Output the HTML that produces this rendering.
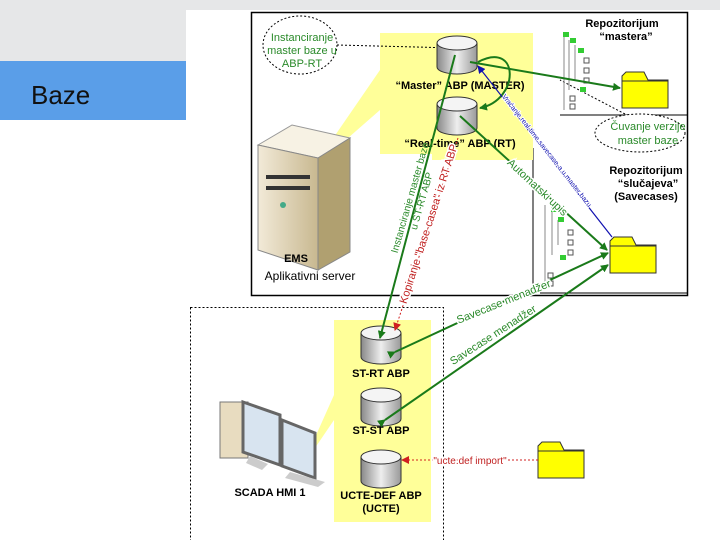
<!DOCTYPE html>
<html><head><meta charset="utf-8"><style>
html,body{margin:0;padding:0;width:720px;height:540px;overflow:hidden;background:#fff}
svg{display:block;font-family:"Liberation Sans",sans-serif}
</style></head><body>
<svg width="720" height="540" viewBox="0 0 720 540" xmlns="http://www.w3.org/2000/svg">
<defs>
<linearGradient id="cyl" x1="0" x2="1"><stop offset="0" stop-color="#888"/><stop offset="0.5" stop-color="#eee"/><stop offset="1" stop-color="#999"/></linearGradient>
<linearGradient id="srv" x1="0" x2="1"><stop offset="0" stop-color="#f2ead8"/><stop offset="1" stop-color="#c8b890"/></linearGradient>
<marker id="ag" markerWidth="8" markerHeight="8" refX="7" refY="4" orient="auto" markerUnits="userSpaceOnUse"><path d="M0,0 L8,4 L0,8 z" fill="#1a7a1a"/></marker>
<marker id="ab" markerWidth="8" markerHeight="8" refX="7" refY="4" orient="auto" markerUnits="userSpaceOnUse"><path d="M0,0 L8,4 L0,8 z" fill="#1010b0"/></marker>
<marker id="ar" markerWidth="8" markerHeight="8" refX="7" refY="4" orient="auto" markerUnits="userSpaceOnUse"><path d="M0,0 L8,4 L0,8 z" fill="#d02020"/></marker>
<g id="cy"><path d="M-20,-12 L-20,12 A20,7 0 0 0 20,12 L20,-12" fill="url(#cyl)" stroke="#333"/><ellipse cx="0" cy="-12" rx="20" ry="7" fill="#f4f4f4" stroke="#333"/></g>
<g id="fd"><path d="M0,4 L0,36 L46,36 L46,8 L26,8 L22,0 L4,0 Z" fill="#ffff00" stroke="#333"/><path d="M0,9 L46,9" stroke="#333"/></g>
</defs>
<rect x="0" y="0" width="720" height="10" fill="#e6e7e8"/>
<rect x="0" y="0" width="186" height="61" fill="#e6e7e8"/>
<rect x="0" y="61" width="186" height="59" fill="#5a9ee8"/>
<text x="31" y="104" font-size="26" fill="#111">Baze</text>
<rect x="251.5" y="12.5" width="436" height="283" fill="#fff" stroke="#000" stroke-width="1.5"/>
<line x1="533" y1="148" x2="533" y2="295" stroke="#000"/>
<line x1="560" y1="115" x2="688" y2="115" stroke="#000"/>
<line x1="540" y1="293" x2="688" y2="293" stroke="#000"/>
<polygon points="380,33 533,33 533,160 432,160 432,154 380,154" fill="#ffff99"/>
<polygon points="325,150 380,70 380,110 300,180" fill="#ffff99"/>
<rect x="334" y="320" width="97" height="202" fill="#ffff99"/>
<polygon points="300,470 334,420 334,395 305,460" fill="#ffff99"/>
<polygon points="258,145 292,125 350,138 318,158" fill="#f7f2e4" stroke="#999"/>
<polygon points="258,145 318,158 318,270 258,250" fill="url(#srv)" stroke="#888"/>
<polygon points="318,158 350,138 350,252 318,270" fill="#b0a070" stroke="#888"/>
<rect x="266" y="175" width="44" height="4" fill="#333"/><rect x="266" y="186" width="44" height="4" fill="#333"/>
<circle cx="283" cy="205" r="3" fill="#4a8"/>
<text x="296" y="262" font-size="11" font-weight="bold" text-anchor="middle">EMS</text>
<text x="310" y="280" font-size="12" text-anchor="middle">Aplikativni server</text>
<ellipse cx="300" cy="45" rx="37" ry="29" fill="#fff" stroke="#000" stroke-dasharray="2,2"/>
<text font-size="11" fill="#2a8a2a" text-anchor="middle"><tspan x="302" y="41">Instanciranje</tspan><tspan x="302" y="54">master baze u</tspan><tspan x="302" y="67">ABP-RT</tspan></text>
<line x1="337" y1="45" x2="455" y2="48" stroke="#000" stroke-dasharray="2,2"/>
<ellipse cx="640" cy="133" rx="45" ry="19" fill="#fff" stroke="#000" stroke-dasharray="2,2"/>
<text font-size="11" fill="#2a8a2a" text-anchor="middle"><tspan x="648" y="130">Čuvanje verzije</tspan><tspan x="648" y="144">master baze</tspan></text>
<line x1="625" y1="114" x2="560" y2="80" stroke="#000" stroke-dasharray="2,2"/>
<text font-size="11" font-weight="bold" text-anchor="middle"><tspan x="622" y="27">Repozitorijum</tspan><tspan x="626" y="40">“mastera”</tspan></text>
<text font-size="11" font-weight="bold" text-anchor="middle"><tspan x="646" y="174">Repozitorijum</tspan><tspan x="648" y="187">“slučajeva”</tspan><tspan x="646" y="200">(Savecases)</tspan></text>
<g stroke="#888" fill="none"><path d="M564,35 V110 M569,40 V90 M575,45 V80"/><path d="M545,205 V285 M552,210 V255 M558,220 V245"/></g>
<g fill="#3c3"><rect x="563" y="32" width="6" height="5"/><rect x="570" y="38" width="6" height="5"/><rect x="578" y="48" width="6" height="5"/><rect x="580" y="87" width="6" height="5"/><rect x="551" y="207" width="6" height="5"/><rect x="558" y="217" width="6" height="5"/><rect x="560" y="255" width="6" height="5"/></g>
<g fill="#fff" stroke="#555"><rect x="584" y="58" width="5" height="5"/><rect x="584" y="68" width="5" height="5"/><rect x="584" y="78" width="5" height="5"/><rect x="570" y="96" width="5" height="5"/><rect x="570" y="104" width="5" height="5"/><rect x="568" y="230" width="5" height="5"/><rect x="568" y="240" width="5" height="5"/><rect x="568" y="250" width="5" height="5"/><rect x="548" y="273" width="5" height="5"/><rect x="548" y="281" width="5" height="5"/></g>
<use href="#fd" x="622" y="72"/>
<use href="#fd" x="610" y="237"/>
<use href="#fd" x="538" y="442"/>
<use href="#cy" x="457" y="55"/>
<use href="#cy" x="457" y="116"/>
<text x="460" y="89" font-size="11" font-weight="bold" text-anchor="middle">“Master” ABP (MASTER)</text>
<text x="460" y="147" font-size="11" font-weight="bold" text-anchor="middle">“Real-time” ABP (RT)</text>
<rect x="190.5" y="307.5" width="253" height="240" fill="none" stroke="#000" stroke-dasharray="2,2"/>
<use href="#cy" x="381" y="345"/>
<use href="#cy" x="381" y="407"/>
<use href="#cy" x="381" y="469"/>
<g font-size="11" font-weight="bold" text-anchor="middle"><text x="381" y="377">ST-RT ABP</text><text x="381" y="434">ST-ST ABP</text><text x="381" y="499">UCTE-DEF ABP</text><text x="381" y="512">(UCTE)</text><text x="270" y="496">SCADA HMI 1</text></g>
<rect x="220" y="402" width="28" height="56" fill="#e8dcc0" stroke="#777"/>
<polygon points="243,402 280,415 280,465 243,452" fill="#d8e4f0" stroke="#666" stroke-width="3"/>
<polygon points="282,420 315,433 315,478 282,466" fill="#d8e4f0" stroke="#666" stroke-width="3"/>
<polygon points="250,456 268,464 262,470 246,463" fill="#ccc"/>
<polygon points="290,472 325,482 318,487 285,478" fill="#ccc"/>
<g fill="none" stroke="#1a7a1a" stroke-width="2">
<path d="M478,62 C520,40 520,100 480,108" marker-end="url(#ag)"/>
<line x1="470" y1="62" x2="620" y2="88" marker-end="url(#ag)"/>
<line x1="455" y1="55" x2="380" y2="338" marker-end="url(#ag)"/>
<line x1="460" y1="116" x2="607" y2="250" marker-end="url(#ag)"/>
<line x1="395" y1="352" x2="608" y2="253" marker-start="url(#ag)" marker-end="url(#ag)"/>
<line x1="385" y1="420" x2="608" y2="265" marker-start="url(#ag)" marker-end="url(#ag)"/>
</g>
<line x1="612" y1="237" x2="478" y2="66" stroke="#1010b0" stroke-width="1.2" marker-end="url(#ab)"/>
<line x1="458" y1="138" x2="395" y2="330" stroke="#d02020" stroke-dasharray="2,2" marker-end="url(#ar)"/>
<line x1="538" y1="460" x2="402" y2="460" stroke="#d02020" stroke-dasharray="2,2" marker-end="url(#ar)"/>
<g font-size="10">
<text transform="translate(418,200) rotate(-74)" fill="#2a8a2a" text-anchor="middle"><tspan x="0" y="-5">Instanciranje master baze</tspan><tspan x="0" y="7">u ST-RT ABP</tspan></text>
<text transform="translate(432,225) rotate(-72)" fill="#c02020" text-anchor="middle" font-size="11" stroke="#fff" stroke-width="3" paint-order="stroke">Kopiranje "base-casea" iz RT ABP</text>
<text transform="translate(535,190) rotate(43)" fill="#2a8a2a" text-anchor="middle" font-size="11" stroke="#fff" stroke-width="3" paint-order="stroke">Automatski upis</text>
<text transform="translate(545,152) rotate(52)" fill="#1010b0" text-anchor="middle" font-size="7" stroke="#fff" stroke-width="2" paint-order="stroke">Vraćanje real-time savecase-a u master bazu</text>
<text transform="translate(505,305) rotate(-22)" fill="#2a8a2a" text-anchor="middle" font-size="11" stroke="#fff" stroke-width="3" paint-order="stroke">Savecase menadžer</text>
<text transform="translate(495,338) rotate(-33)" fill="#2a8a2a" text-anchor="middle" font-size="11" stroke="#fff" stroke-width="3" paint-order="stroke">Savecase menadžer</text>
<text x="470" y="464" fill="#c02020" text-anchor="middle" font-size="10" stroke="#fff" stroke-width="3" paint-order="stroke">"ucte.def import"</text>
</g>
</svg>
</body></html>
